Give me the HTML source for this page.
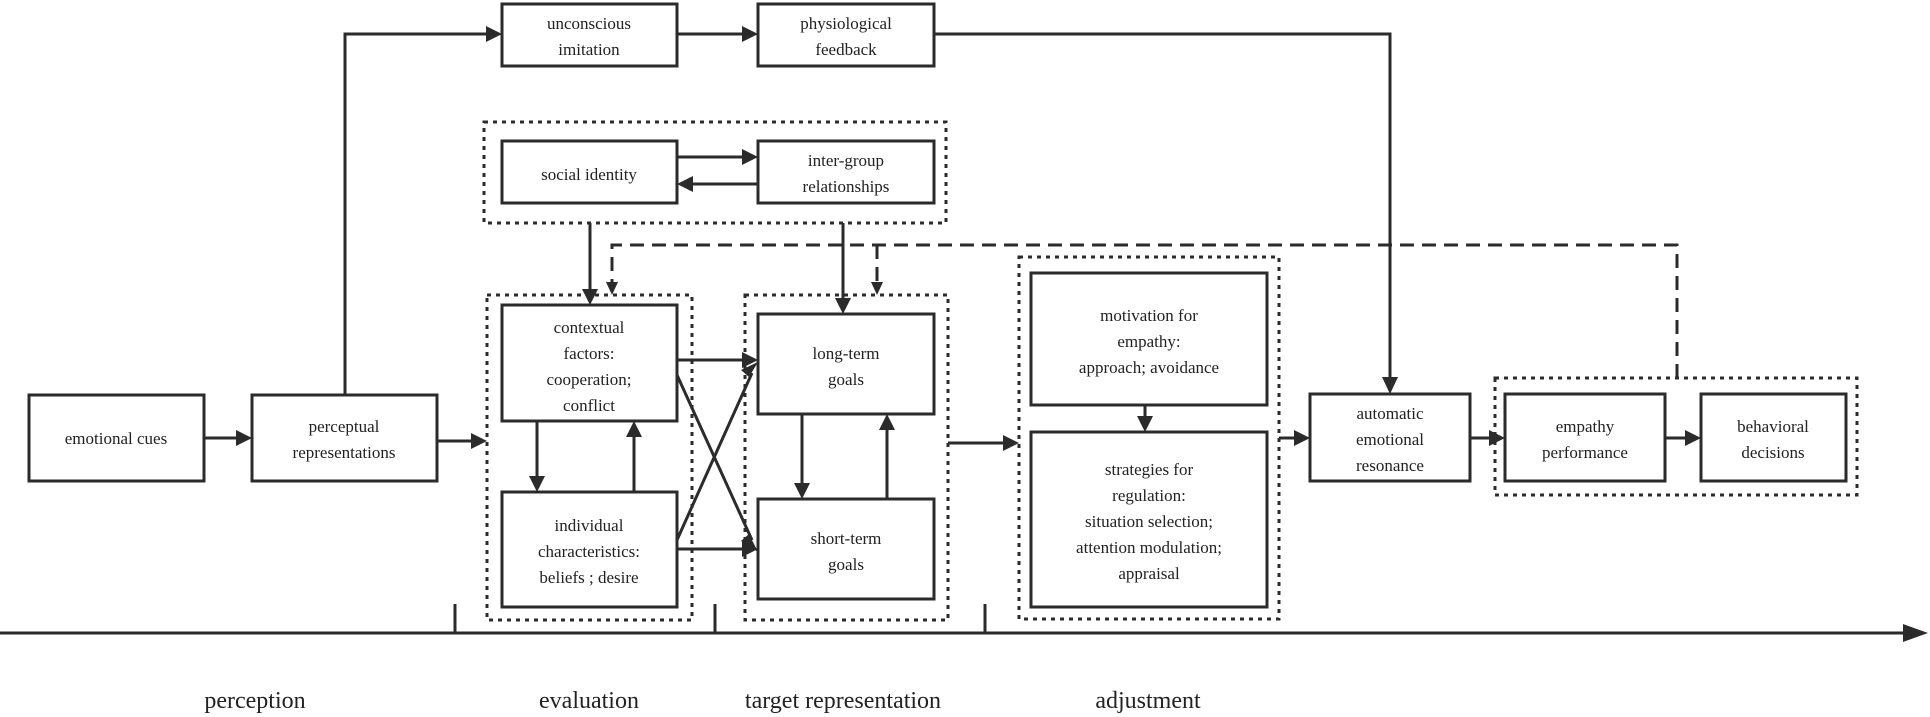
<!DOCTYPE html>
<html><head><meta charset="utf-8"><style>
html,body{margin:0;padding:0;background:#fff;}
svg{display:block;}
text{font-family:"Liberation Serif",serif;fill:#222;}
</style></head><body>
<svg width="1930" height="717" viewBox="0 0 1930 717" xmlns="http://www.w3.org/2000/svg">
<defs>
<marker id="a" viewBox="0 0 10 10" refX="10" refY="5" markerWidth="5" markerHeight="5" orient="auto" markerUnits="userSpaceOnUse" style="overflow:visible">
</marker>
</defs>
<g fill="none" stroke="#2b2b2b">
<!-- boxes -->
<g stroke-width="3">
<rect x="29" y="395" width="175" height="86"/>
<rect x="252" y="395" width="185" height="86"/>
<rect x="502" y="4" width="175" height="62"/>
<rect x="758" y="4" width="176" height="62"/>
<rect x="502" y="141" width="175" height="62"/>
<rect x="758" y="141" width="176" height="62"/>
<rect x="502" y="305" width="175" height="116"/>
<rect x="502" y="492" width="175" height="115"/>
<rect x="758" y="314" width="176" height="100"/>
<rect x="758" y="499" width="176" height="100"/>
<rect x="1031" y="273" width="236" height="132"/>
<rect x="1031" y="432" width="236" height="175"/>
<rect x="1310" y="394" width="160" height="87"/>
<rect x="1505" y="394" width="160" height="87"/>
<rect x="1701" y="394" width="145" height="87"/>
</g>
<!-- dotted groups -->
<g stroke-width="3" stroke-dasharray="4,5">
<rect x="484" y="122" width="462" height="101"/>
<rect x="487" y="295" width="205" height="325"/>
<rect x="745" y="295" width="203" height="325"/>
<rect x="1019" y="257" width="260" height="362"/>
<rect x="1495" y="378" width="362" height="117"/>
</g>
<!-- dashed feedback -->
<path d="M1677 378 V245 H612 V285 M877 245 V285" stroke-width="3" stroke-dasharray="14,8"/>
<!-- solid connectors -->
<g stroke-width="3">
<path d="M204 438 H240"/>
<path d="M437 441 H475"/>
<path d="M345 395 V34 H490"/>
<path d="M677 34 H746"/>
<path d="M934 34 H1390 V382"/>
<path d="M677 157 H746"/>
<path d="M758 184 H689"/>
<path d="M590 223 V293"/>
<path d="M843 223 V302"/>
<path d="M537 421 V480"/>
<path d="M634 492 V433"/>
<path d="M802 414 V487"/>
<path d="M887 499 V426"/>
<path d="M677 360 H746"/>
<path d="M677 549 H746"/>
<path d="M677 375 L752 540"/>
<path d="M677 540 L752 373"/>
<path d="M948 443 H1007"/>
<path d="M1145 405 V420"/>
<path d="M1279 438 H1298"/>
<path d="M1470 438 H1493"/>
<path d="M1665 438 H1689"/>
<path d="M0 633 H1910"/>
<path d="M455 604 V633 M715 604 V633 M985 604 V633"/>
</g>
</g>
<!-- arrowheads -->
<g fill="#2b2b2b">
<polygon points="252,438 236,430 236,446"/>
<polygon points="487,441 471,433 471,449"/>
<polygon points="502,34 486,26 486,42"/>
<polygon points="758,34 742,26 742,42"/>
<polygon points="1390,394 1382,377 1398,377"/>
<polygon points="758,157 742,149 742,165"/>
<polygon points="677,184 693,176 693,192"/>
<polygon points="590,305 582,289 598,289"/>
<polygon points="843,314 835,298 851,298"/>
<polygon points="612,295 606,282 618,282"/>
<polygon points="877,295 871,282 883,282"/>
<polygon points="537,492 529,476 545,476"/>
<polygon points="634,421 626,437 642,437"/>
<polygon points="802,499 794,483 810,483"/>
<polygon points="887,414 879,430 895,430"/>
<polygon points="758,360 742,352 742,368"/>
<polygon points="758,549 742,541 742,557"/>
<polygon points="758,552 741,541 749,534"/>
<polygon points="758,362 749,377 741,370"/>
<polygon points="1019,443 1003,435 1003,451"/>
<polygon points="1145,432 1137,416 1153,416"/>
<polygon points="1310,438 1294,430 1294,446"/>
<polygon points="1505,438 1489,430 1489,446"/>
<polygon points="1701,438 1685,430 1685,446"/>
<polygon points="1928,633 1903,624 1903,642"/>
</g>
<!-- labels -->
<g font-size="17" text-anchor="middle">
<text x="116" y="444">emotional cues</text>
<text x="344" y="432">perceptual</text>
<text x="344" y="458">representations</text>
<text x="589" y="29">unconscious</text>
<text x="589" y="55">imitation</text>
<text x="846" y="29">physiological</text>
<text x="846" y="55">feedback</text>
<text x="589" y="180">social identity</text>
<text x="846" y="166">inter-group</text>
<text x="846" y="192">relationships</text>
<text x="589" y="333">contextual</text>
<text x="589" y="359">factors:</text>
<text x="589" y="385">cooperation;</text>
<text x="589" y="411">conflict</text>
<text x="589" y="531">individual</text>
<text x="589" y="557">characteristics:</text>
<text x="589" y="583">beliefs ; desire</text>
<text x="846" y="359">long-term</text>
<text x="846" y="385">goals</text>
<text x="846" y="544">short-term</text>
<text x="846" y="570">goals</text>
<text x="1149" y="321">motivation for</text>
<text x="1149" y="347">empathy:</text>
<text x="1149" y="373">approach; avoidance</text>
<text x="1149" y="475">strategies for</text>
<text x="1149" y="501">regulation:</text>
<text x="1149" y="527">situation selection;</text>
<text x="1149" y="553">attention modulation;</text>
<text x="1149" y="579">appraisal</text>
<text x="1390" y="419">automatic</text>
<text x="1390" y="445">emotional</text>
<text x="1390" y="471">resonance</text>
<text x="1585" y="432">empathy</text>
<text x="1585" y="458">performance</text>
<text x="1773" y="432">behavioral</text>
<text x="1773" y="458">decisions</text>
</g>
<g font-size="24" text-anchor="middle">
<text x="255" y="708">perception</text>
<text x="589" y="708">evaluation</text>
<text x="843" y="708">target representation</text>
<text x="1148" y="708">adjustment</text>
</g>
</svg>
</body></html>
